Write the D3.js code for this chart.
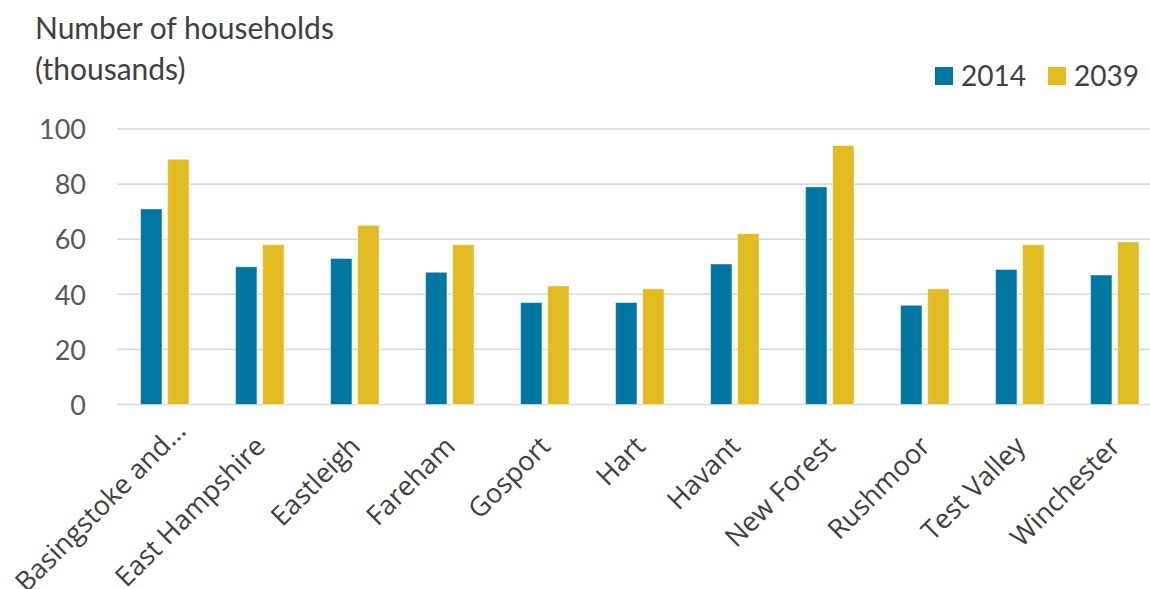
<!DOCTYPE html>
<html>
<head>
<meta charset="utf-8">
<script src="https://cdn.jsdelivr.net/npm/d3@7"></script>
<style>
  html, body { margin: 0; padding: 0; background: #ffffff; }
  svg { display: block; }
</style>
</head>
<body>
<svg id="chart" width="1150" height="589"></svg>
<script>
const categories = ["Basingstoke and…", "East Hampshire", "Eastleigh", "Fareham", "Gosport", "Hart", "Havant", "New Forest", "Rushmoor", "Test Valley", "Winchester"];
const seriesNames = ["2014", "2039"];
const values2014 = [71, 50, 53, 48, 37, 37, 51, 79, 36, 49, 47];
const values2039 = [89, 58, 65, 58, 43, 42, 62, 94, 42, 58, 59];
const yTicks = [0, 20, 40, 60, 80, 100];
const titleLines = ["Number of households", "(thousands)"];

const colors = { "2014": "#0076a3", "2039": "#e0bb22" };
const textColor = "#404040";

const svg = d3.select("#chart");
const W = 1150, H = 589;

const x = d3.scaleBand().domain(categories).range([117.3, 1162.3]).paddingInner(0.49).paddingOuter(0.245);
const xs = d3.scaleBand().domain(seriesNames).range([0, x.bandwidth()]).paddingInner(0.21);
const y = d3.scaleLinear().domain([0, 100]).range([404.5, 129]);

// gridlines
const grid = svg.append("g");
grid.selectAll("line").data(yTicks).join("line")
  .attr("x1", 117.3).attr("x2", W)
  .attr("y1", d => y(d)).attr("y2", d => y(d))
  .attr("stroke", "#d9d9d9").attr("stroke-width", 1.6);

// y axis labels
const yAxis = d3.axisLeft(y).tickValues(yTicks).tickSize(0).tickPadding(0);
const yg = svg.append("g").attr("transform", "translate(86,0)").call(yAxis);
yg.select(".domain").remove();
yg.selectAll("text")
  .style("font-family", "Lato, 'Open Sans', sans-serif")
  .style("font-size", "27px")
  .attr("fill", "#595959")
  .attr("dy", "0.36em");

// bars
const data = categories.map((c, i) => ({ cat: c, vals: [{ s: "2014", v: values2014[i] }, { s: "2039", v: values2039[i] }] }));
const groups = svg.append("g").selectAll("g").data(data).join("g")
  .attr("transform", d => `translate(${x(d.cat)},0)`);
groups.selectAll("rect").data(d => d.vals).join("rect")
  .attr("x", d => xs(d.s))
  .attr("width", xs.bandwidth())
  .attr("y", d => y(d.v))
  .attr("height", d => y(0) - y(d.v))
  .attr("fill", d => colors[d.s])
  .attr("stroke", "#ffffff").attr("stroke-opacity", 0.45).attr("stroke-width", 1);

// x axis labels (rotated)
const xAxis = d3.axisBottom(x).tickSize(0).tickPadding(0);
const xg = svg.append("g").call(xAxis);
xg.select(".domain").remove();
xg.selectAll(".tick").attr("transform", d => `translate(${x(d) + x.bandwidth() / 2 + 7},448)`);
xg.selectAll(".tick text")
  .style("font-family", "'Open Sans', 'Noto Sans', sans-serif")
  .style("font-size", "27px")
  .attr("fill", textColor)
  .attr("text-anchor", "end")
  .attr("x", d => d.endsWith("…") ? 22 : 0)
  .attr("y", 0).attr("dy", 0)
  .attr("transform", "rotate(-45)");

// title
const title = svg.append("text")
  .style("font-family", "Lato, 'Open Sans', sans-serif")
  .style("font-size", "30px")
  .attr("fill", textColor);
title.selectAll("tspan").data(titleLines).join("tspan")
  .attr("x", 35).attr("y", (d, i) => 39 + i * 41)
  .text(d => d);

// legend
const legendX = [935, 1048];
const lg = svg.append("g").selectAll("g").data(seriesNames).join("g")
  .attr("transform", (d, i) => `translate(${legendX[i]},67)`);
lg.append("rect").attr("width", 18).attr("height", 18).attr("fill", d => colors[d]);
lg.append("text").attr("x", 26).attr("y", 18.5)
  .style("font-family", "Lato, 'Open Sans', sans-serif")
  .style("font-size", "28px")
  .attr("fill", textColor)
  .text(d => d);
</script>
</body>
</html>
